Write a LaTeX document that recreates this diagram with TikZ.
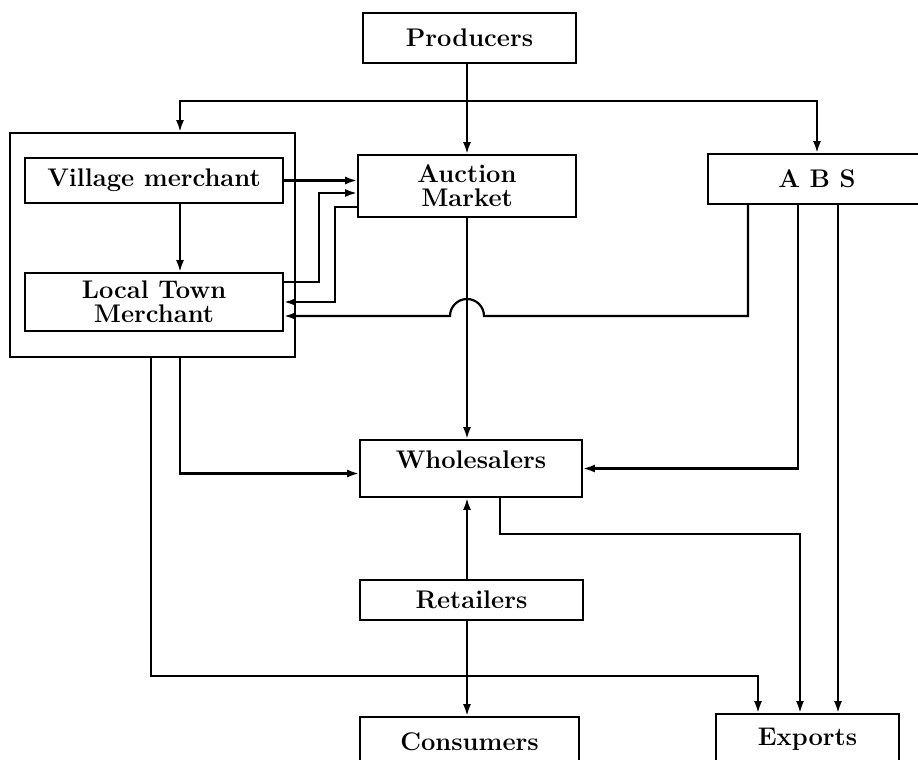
\documentclass[tikz,border=0pt]{standalone}
\usepackage{fontspec}
\usetikzlibrary{arrows.meta}

\tikzset{
  box/.style={draw, line width=1.8pt, inner sep=0pt, align=center,
    font=\fontsize{25.5}{24}\selectfont\bfseries},
  flow/.style={line width=2.2pt, -{Latex[length=12pt,width=8pt]}},
}

\begin{document}
\begin{tikzpicture}[x=1pt,y=-1pt]
\useasboundingbox (0,0) rectangle (918,760);
\clip (0,0) rectangle (918,760);

% ===== Boxes =====
\node[box, minimum width=213pt, minimum height=50pt] (prod) at (469.5,38) {Producers};
\node[box, minimum width=285pt, minimum height=224pt] (grp) at (152.5,245) {};
\node[box, minimum width=258pt, minimum height=45pt] (vill) at (154,180.5) {Village merchant};
\node[box, minimum width=258pt, minimum height=58pt] (local) at (154,302) {Local Town\\Merchant};
\node[box, minimum width=218pt, minimum height=62pt] (auct) at (467,186) {Auction\\Market};
\node[box, minimum width=218pt, minimum height=50pt] (abs) at (817,179) {A B S};
\node[box, minimum width=222pt, minimum height=57pt, text depth=17pt] (whole) at (471,468.5) {Wholesalers};
\node[box, minimum width=223pt, minimum height=40pt] (reta) at (471.5,600) {Retailers};
\node[box, minimum width=219pt, minimum height=50pt] (cons) at (469.5,742) {Consumers};
\node[box, minimum width=183pt, minimum height=50pt] (expo) at (807.5,739) {Exports};

% ===== Producers =====
\coordinate (top) at (467,101);
\draw[flow] (prod.south -| auct.north) -- (auct.north);
\draw[flow] (top) -| ([xshift=27.5pt]grp.north);
\draw[flow] (top) -| (abs.north);

% ===== Merchants and auction =====
\draw[flow] ([xshift=26pt]vill.south) -- ([xshift=26pt]vill.south |- local.north);
\draw[flow] (vill.east) -- (vill.east -| auct.west);
\draw[flow] ([yshift=20pt]local.east) -| ([xshift=-38pt,yshift=-7pt]auct.west) -- ([yshift=-7pt]auct.west);
\draw[flow] ([yshift=-21pt]auct.west) -| ([xshift=51pt]local.east) -- (local.east);
\draw[flow] ([xshift=-69pt]abs.south) |- (484,316) arc[start angle=0, end angle=180, radius=17pt]
  -- ([yshift=-14pt]local.east);

% ===== To wholesalers =====
\draw[flow] (auct.south) -- (auct.south |- whole.north);
\draw[flow] ([xshift=27.5pt]grp.south) |- ([yshift=-5pt]whole.west);
\draw[flow] ([xshift=-19pt]abs.south) |- (whole.east);
\draw[flow] ([xshift=-4.5pt]reta.north) -- ([xshift=-4.5pt]reta.north |- whole.south);

% ===== To consumers and exports =====
\draw[flow] ([xshift=-4.5pt]reta.south) -- ([xshift=-4.5pt]reta.south |- cons.north);
\draw[flow] ([xshift=-1.5pt]grp.south) -- ++(0,318) -| ([xshift=-49.5pt]expo.north);
\draw[flow] ([xshift=29pt]whole.south) -- ++(0,36) -| ([xshift=-7.5pt]expo.north);
\draw[flow] ([xshift=21pt]abs.south) -- ([xshift=21pt]abs.south |- expo.north);

\end{tikzpicture}
\end{document}
